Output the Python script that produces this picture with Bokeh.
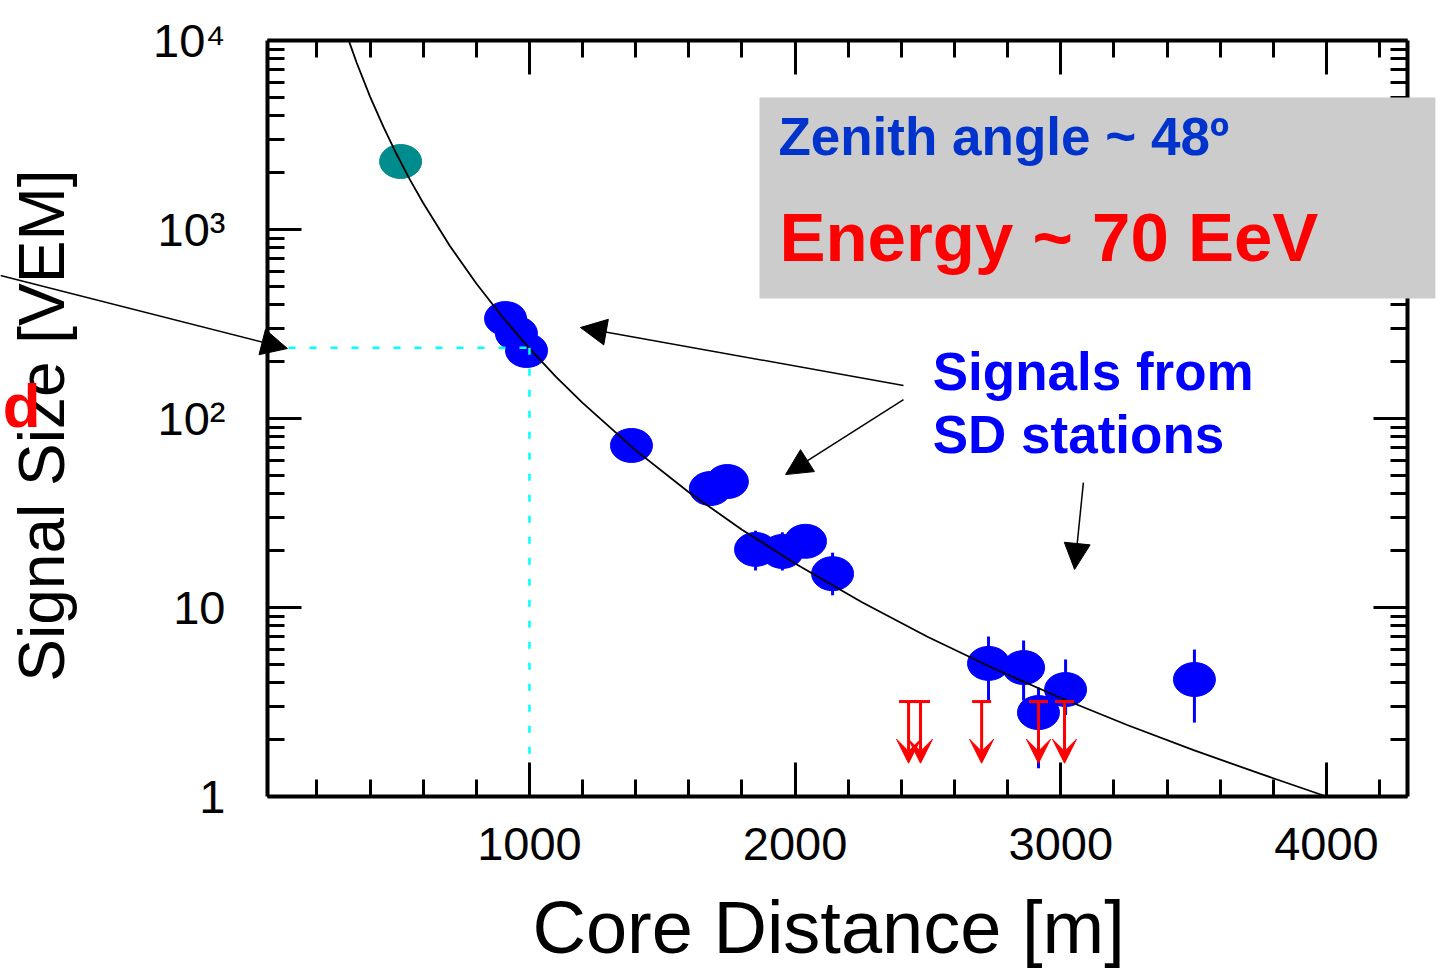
import math
from bokeh.plotting import figure
from bokeh.models import (Range1d, FixedTicker, LinearAxis, LogAxis, Arrow, NormalHead,
                          VeeHead, Label, BoxAnnotation, ColumnDataSource)
from bokeh.embed import file_html
from bokeh.resources import INLINE

# ---------------- data ----------------
# saturated station (teal)
sat_r = [515]
sat_s = [2290]

# SD station signals (blue) with error bars
station_r = [910, 951, 989, 1384, 1681, 1745, 1851, 1952, 2039, 2141, 2728, 2860, 2916, 3018, 3503]
station_s = [338, 282, 229, 72.0, 42.6, 46.4, 20.3, 19.8, 22.4, 15.1, 5.06, 4.81, 2.78, 3.68, 4.16]
station_lo = [305, 255, 208, 64, 38.5, 41.5, 15.7, 15.7, 19.5, 11.6, 3.22, 3.22, 1.41, 2.70, 2.46]
station_hi = [372, 310, 252, 81, 47.0, 51.0, 25.5, 25.0, 25.5, 19.5, 7.02, 6.69, 3.77, 5.31, 5.99]

# upper limits (silent stations, red)
limit_r = [2427, 2472, 2702, 2916, 3014]
limit_s = [3.18, 3.18, 3.18, 3.18, 3.18]

# lateral distribution fit
curve_r = [322, 350, 400, 450, 500, 550, 600, 700, 800, 900, 1000, 1100, 1200, 1400, 1600,
           1800, 2000, 2250, 2500, 2750, 3000, 3250, 3500, 3750, 4000]
curve_s = [9800, 7600, 5050, 3500, 2500, 1835, 1380, 820, 518, 342, 235, 166, 121, 67.8, 40.7,
           25.8, 17.1, 10.7, 6.98, 4.74, 3.32, 2.39, 1.76, 1.32, 1.0]

# S(1000) read-off
s1000_r = 1000
s1000_s = 237

# axis ticks
x_major = [1000, 2000, 3000, 4000]
x_minor = [200, 400, 600, 800, 1000, 1200, 1400, 1600, 1800, 2000, 2200, 2400, 2600, 2800,
           3000, 3200, 3400, 3600, 3800, 4000, 4200]
y_major = [1, 10, 100, 1000, 10000]
y_minor = [2, 3, 4, 5, 6, 7, 8, 9, 20, 30, 40, 50, 60, 70, 80, 90,
           200, 300, 400, 500, 600, 700, 800, 900, 2000, 3000, 4000, 5000, 6000, 7000, 8000, 9000]
y_labels = {1: "1", 10: "10", 100: "10\u00b2", 1000: "10\u00b3", 10000: "10\u2074"}

# axis box in data units; the plotting region covers the whole canvas so that
# annotations may reach the page edges like in the original slide
AX0, AX1 = 14, 4305
AY0, AY1 = 1, 10000
X0, X1 = -991, 4433
Y0, Y1 = 0.11574, 16280
FONT = "Liberation Sans"

p = figure(width=1441, height=973, x_range=Range1d(X0, X1), y_range=Range1d(Y0, Y1),
           y_axis_type="log", output_backend="svg", toolbar_location=None,
           min_border_left=0, min_border_right=0, min_border_top=0, min_border_bottom=0)
p.xgrid.visible = False
p.ygrid.visible = False
p.outline_line_color = None
p.background_fill_color = "white"
p.border_fill_color = "white"

xt = FixedTicker(ticks=x_major, minor_ticks=x_minor)
yt = FixedTicker(ticks=y_major, minor_ticks=y_minor)


def style(ax, ticker, show_labels):
    ax.ticker = ticker
    ax.axis_line_width = 4
    ax.axis_line_color = "black"
    ax.major_tick_in = 34
    ax.major_tick_out = 0
    ax.minor_tick_in = 17
    ax.minor_tick_out = 0
    ax.major_tick_line_width = 3
    ax.minor_tick_line_width = 3
    ax.major_tick_line_color = "black"
    ax.minor_tick_line_color = "black"
    if show_labels:
        ax.major_label_text_font = FONT
        ax.major_label_text_font_size = "47px"
        ax.major_label_text_color = "black"
    else:
        ax.major_label_text_font_size = "0px"
        ax.major_label_text_color = None


bx = p.xaxis[0]
style(bx, xt, True)
bx.bounds = (AX0, AX1)
bx.fixed_location = AY0
bx.major_label_standoff = 32

ly = p.yaxis[0]
style(ly, yt, True)
ly.bounds = (AY0, AY1)
ly.fixed_location = AX0
ly.major_label_overrides = y_labels
ly.major_label_standoff = 42

tx = LinearAxis()
style(tx, xt, False)
tx.bounds = (AX0, AX1)
tx.fixed_location = AY1
p.add_layout(tx, "above")
ry = LogAxis()
style(ry, yt, False)
ry.bounds = (AY0, AY1)
ry.fixed_location = AX1
p.add_layout(ry, "right")

# axis titles
p.add_layout(Label(x=2126, y=0.122, text="Core Distance [m]", text_align="center",
                   text_font=FONT, text_font_size="74px", text_color="black"))
p.add_layout(Label(x=-700, y=91.8, text="Signal Size [VEM]", text_align="center",
                   angle=math.pi / 2, text_font=FONT, text_font_size="64px", text_color="black"))

# error bars and stations
p.segment(x0=station_r, y0=station_lo, x1=station_r, y1=station_hi, line_color="#0000FF", line_width=3)
p.ellipse(x=station_r, y=station_s, width=42, height=34, width_units="screen", height_units="screen",
          fill_color="#0000FF", line_color="#0000FF")
p.ellipse(x=sat_r, y=sat_s, width=42, height=34, width_units="screen", height_units="screen",
          fill_color="#008C8C", line_color="#008C8C")

# fit curve
p.line(curve_r, curve_s, line_color="black", line_width=1.8)

# S(1000) guide lines
p.line([AX0, s1000_r], [s1000_s, s1000_s], line_color="#00FFFF", line_width=2.5, line_dash="7 14")
p.line([s1000_r, s1000_r], [s1000_s, AY0], line_color="#00FFFF", line_width=2.5, line_dash="7 14")

# upper limits
lim_src = ColumnDataSource(dict(x=limit_r, top=limit_s, tip=[v / 2.12 for v in limit_s]))
p.scatter("x", "top", source=lim_src, marker="dash", size=19, line_color="#FF0000", line_width=3)
p.add_layout(Arrow(source=lim_src, x_start="x", y_start="top", x_end="x", y_end="tip",
                   line_color="#FF0000", line_width=3,
                   end=VeeHead(size=24, fill_color="#FF0000", line_color="#FF0000")))

# grey info box
p.add_layout(BoxAnnotation(left=1866, right=4410, bottom=431.5, top=4992,
                           fill_color="#CCCCCC", fill_alpha=1.0, line_color=None))

p.add_layout(Label(x=1937, y=2162, text="Zenith angle ~ 48\u00ba", text_font=FONT,
                   text_font_style="bold", text_font_size="53px", text_color="#0033CC"))
p.add_layout(Label(x=1941, y=567, text="Energy ~ 70 EeV", text_font=FONT,
                   text_font_style="bold", text_font_size="69px", text_color="#FF0000"))
p.add_layout(Label(x=2518, y=124.5, text="Signals from", text_font=FONT,
                   text_font_style="bold", text_font_size="53px", text_color="#0000FF"))
p.add_layout(Label(x=2518, y=57.6, text="SD stations", text_font=FONT,
                   text_font_style="bold", text_font_size="53px", text_color="#0000FF"))
p.add_layout(Label(x=-983, y=77.4, text="d", text_align="left", text_font=FONT,
                   text_font_style="bold", text_font_size="62px", text_color="#FF0000"))

# black pointer arrows
for xs, ys, xe, ye in [(-991, 571, 89, 234.6), (2408, 149.5, 1192, 303),
                       (2408, 126, 1964, 50.5), (3085, 45.8, 3052, 15.9)]:
    p.add_layout(Arrow(x_start=xs, y_start=ys, x_end=xe, y_end=ye, line_color="black",
                       line_width=1.5, end=NormalHead(size=26, fill_color="black", line_color="black")))

open("out.html", "w").write(file_html(p, INLINE))
